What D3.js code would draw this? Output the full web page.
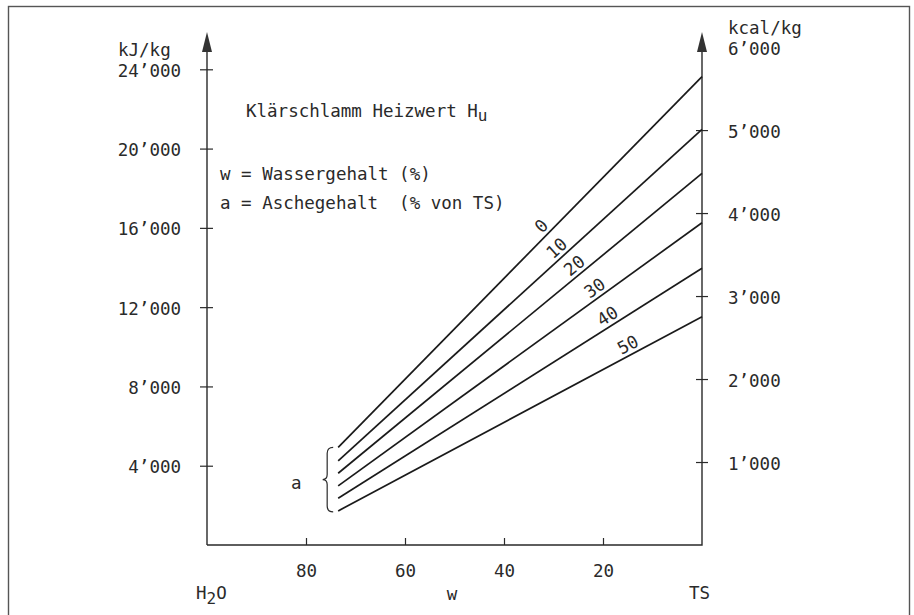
<!DOCTYPE html>
<html>
<head>
<meta charset="utf-8">
<script src="https://cdn.jsdelivr.net/npm/d3@7"></script>
<style>
  html, body { margin: 0; padding: 0; background: #fff; }
  svg text { font-family: "DejaVu Sans Mono", "Liberation Mono", monospace; font-size: 17.5px; fill: #2a2a2a; }
</style>
</head>
<body>
<svg id="chart" width="914" height="615"></svg>
<script>
// ---- data ----
const ashContent = [0, 10, 20, 30, 40, 50];           // a = Aschegehalt (% von TS)
const waterStart = 73.5;                              // w where the lines begin (%)
const waterEnd = 0;                                   // w at TS (%)
const huAtStart = [4930, 4250, 3620, 2980, 2360, 1720];     // kJ/kg at w = 73.5
const huAtTS = [23630, 20970, 18750, 16260, 13960, 11520];  // kJ/kg at w = 0
const labelAtW = [31, 28, 24.5, 20.5, 18, 14];        // where the a-labels sit along each line (w %)
const kjTicks = [4000, 8000, 12000, 16000, 20000, 24000];
const kcalTicks = [1000, 2000, 3000, 4000, 5000, 6000];
const wTicks = [80, 60, 40, 20];
const KJ_PER_KCAL = 4.1868;

// ---- scales ----
const svg = d3.select("#chart");
const x = d3.scaleLinear().domain([100, 0]).range([207, 702]);
const y = d3.scaleLinear().domain([0, 24000]).range([545, 69.3]);
const yKcal = d3.scaleLinear().domain([0, 6000]).range([y(0), y(6000 * KJ_PER_KCAL)]);
const fmt = d => d3.format(",")(d).replace(/,/g, "\u2019");
const ink = "#2a2a2a";

// frame
svg.append("rect").attr("x", 8.5).attr("y", 6.5).attr("width", 901).attr("height", 640)
  .attr("fill", "none").attr("stroke", "#555").attr("stroke-width", 1.4);

// ---- axes ----
const gl = svg.append("g").attr("transform", `translate(${x(100)},0)`)
  .call(d3.axisLeft(y).tickValues(kjTicks).tickFormat(fmt).tickSizeInner(7).tickSizeOuter(0).tickPadding(19));
gl.select(".domain").remove();
gl.selectAll(".tick line").attr("x1", 6).attr("x2", -7).attr("stroke", ink).attr("stroke-width", 1.2);
gl.selectAll(".tick text").attr("dy", "0.4em");

const gr = svg.append("g").attr("transform", `translate(${x(0)},0)`)
  .call(d3.axisRight(yKcal).tickValues(kcalTicks).tickFormat(fmt).tickSizeInner(6).tickSizeOuter(0).tickPadding(20));
gr.select(".domain").remove();
gr.selectAll(".tick line").attr("x1", -6).attr("x2", 6).attr("stroke", ink).attr("stroke-width", 1.2)
  .filter(d => d === 6000).remove();
gr.selectAll(".tick text").attr("dy", "0.4em");

const gb = svg.append("g").attr("transform", `translate(0,${y(0)})`)
  .call(d3.axisBottom(x).tickValues(wTicks).tickSizeInner(-7).tickSizeOuter(0).tickPadding(20));
gb.select(".domain").remove();
gb.selectAll(".tick line").attr("stroke", ink).attr("stroke-width", 1.2);
svg.selectAll("g .tick text").style("font-family", null).style("font-size", null).attr("fill", ink);
svg.selectAll("g").attr("font-family", null).attr("font-size", null);

// axis lines with arrows
const yTop = 32;
svg.append("path")
  .attr("d", `M${x(100)},${y(0)}V${yTop + 10}M${x(100)},${y(0)}H${x(0)}V${yTop + 10}`)
  .attr("fill", "none").attr("stroke", ink).attr("stroke-width", 1.4);
[x(100), x(0)].forEach(ax => {
  svg.append("path").attr("d", `M${ax},${yTop}L${ax - 5},${yTop + 20}L${ax + 5},${yTop + 20}Z`)
    .attr("fill", "#333");
});

// ---- series lines ----
const line = d3.line().x(d => x(d[0])).y(d => y(d[1]));
ashContent.forEach((a, i) => {
  const pts = [[waterStart, huAtStart[i]], [waterEnd, huAtTS[i]]];
  svg.append("path").attr("d", line(pts)).attr("fill", "none")
    .attr("stroke", "#1a1a1a").attr("stroke-width", 1.7);
  // label along line
  const t = (waterStart - labelAtW[i]) / (waterStart - waterEnd);
  const hu = huAtStart[i] + t * (huAtTS[i] - huAtStart[i]);
  const px = x(labelAtW[i]), py = y(hu);
  const ang = Math.atan2(y(huAtTS[i]) - y(huAtStart[i]), x(waterEnd) - x(waterStart)) * 180 / Math.PI;
  svg.append("text").attr("transform", `translate(${px},${py}) rotate(${ang})`)
    .attr("text-anchor", "middle").attr("dy", -4).text(a);
});

// brace for a
const bx = x(waterStart) - 11, bTop = y(huAtStart[0]), bBot = y(huAtStart[5]) + 1, bMid = (bTop + bBot) / 2;
svg.append("path")
  .attr("d", `M${bx + 6},${bTop} Q${bx},${bTop} ${bx},${bTop + 6} V${bMid - 5} Q${bx},${bMid} ${bx - 4.5},${bMid} Q${bx},${bMid} ${bx},${bMid + 5} V${bBot - 6} Q${bx},${bBot} ${bx + 6},${bBot}`)
  .attr("fill", "none").attr("stroke", ink).attr("stroke-width", 1.2);
svg.append("text").attr("x", 291).attr("y", 489).text("a");

// ---- texts ----
svg.append("text").attr("x", 118).attr("y", 56).text("kJ/kg");
svg.append("text").attr("x", 728).attr("y", 34).text("kcal/kg");
const title = svg.append("text").attr("x", 246).attr("y", 117).text("Klärschlamm Heizwert H");
title.append("tspan").attr("dy", 4).style("font-size", "16px").text("u");
svg.append("text").attr("x", 220).attr("y", 180).style("white-space", "pre").text("w = Wassergehalt (%)");
svg.append("text").attr("x", 220).attr("y", 209).style("white-space", "pre").text("a = Aschegehalt  (% von TS)");

const h2o = svg.append("text").attr("x", 196).attr("y", 599).text("H");
h2o.append("tspan").attr("dy", 5).style("font-size", "16px").text("2");
h2o.append("tspan").attr("dy", -5).text("O");
svg.append("text").attr("x", 452).attr("y", 600).attr("text-anchor", "middle").text("w");
svg.append("text").attr("x", 689).attr("y", 599).text("TS");
</script>
</body>
</html>
